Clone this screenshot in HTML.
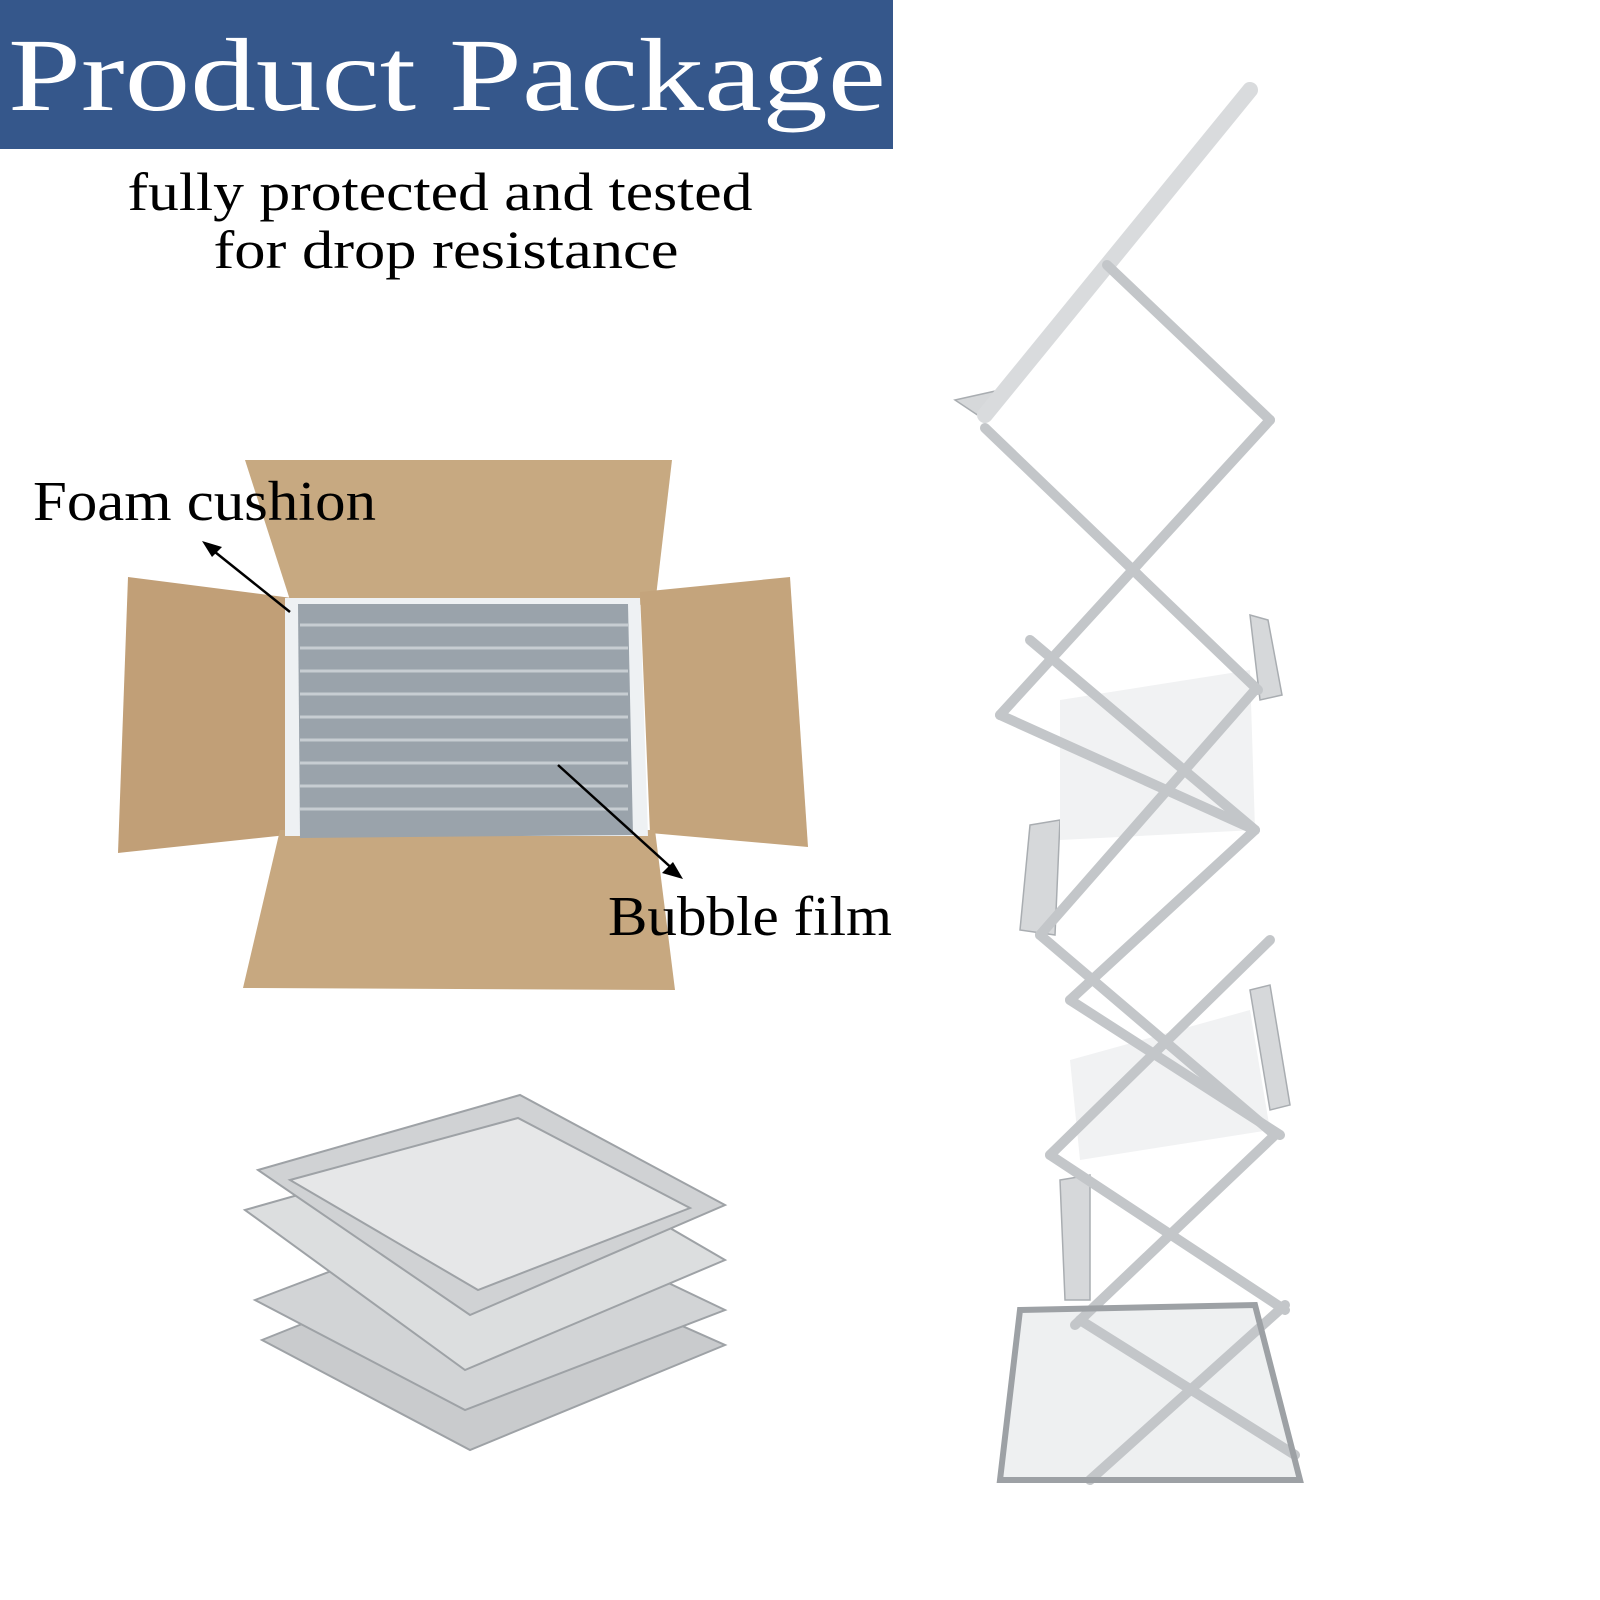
<!DOCTYPE html>
<html><head><meta charset="utf-8"><style>html,body{margin:0;padding:0;background:#fff}svg{display:block}</style></head>
<body>
<svg width="1600" height="1600" viewBox="0 0 1600 1600" xmlns="http://www.w3.org/2000/svg">
<rect x="0" y="0" width="893" height="149" fill="#35578b"/>
<text x="8" y="110" font-family="Liberation Serif, serif" font-size="104" fill="#fff" textLength="878" lengthAdjust="spacingAndGlyphs">Product Package</text>
<text x="440" y="210" text-anchor="middle" font-family="Liberation Serif, serif" font-size="54" fill="#000" textLength="625" lengthAdjust="spacingAndGlyphs">fully protected and tested</text>
<text x="446" y="268" text-anchor="middle" font-family="Liberation Serif, serif" font-size="54" fill="#000" textLength="465" lengthAdjust="spacingAndGlyphs">for drop resistance</text>

<polygon points="245,460 672,460 655,605 290,600" fill="#c7a981"/>
<polygon points="128,577 292,598 287,835 118,853" fill="#c19f77"/>
<polygon points="640,592 790,577 808,847 650,833" fill="#c4a47c"/>
<polygon points="280,830 655,830 675,990 243,988" fill="#c7a880"/>
<polygon points="285,598 640,598 648,836 285,836" fill="#eef1f3"/>
<polygon points="298,604 628,604 633,835 300,838" fill="#9aa3ab"/>
<g stroke="#c7cdd2" stroke-width="3">
<line x1="300" y1="625" x2="628" y2="625"/><line x1="300" y1="648" x2="628" y2="648"/><line x1="300" y1="671" x2="628" y2="671"/><line x1="300" y1="694" x2="628" y2="694"/><line x1="300" y1="717" x2="628" y2="717"/><line x1="300" y1="740" x2="628" y2="740"/><line x1="300" y1="763" x2="628" y2="763"/><line x1="300" y1="786" x2="628" y2="786"/><line x1="300" y1="809" x2="628" y2="809"/>
</g>
<text x="33" y="520" font-family="Liberation Serif, serif" font-size="56" fill="#000" textLength="343" lengthAdjust="spacingAndGlyphs">Foam cushion</text>
<text x="608" y="935" font-family="Liberation Serif, serif" font-size="56" fill="#000" textLength="284" lengthAdjust="spacingAndGlyphs">Bubble film</text>
<g stroke="#000" stroke-width="2.5">
<line x1="290" y1="612" x2="210" y2="548"/><line x1="558" y1="765" x2="676" y2="872"/>
</g>
<polygon points="202,541 222,547 212,557" fill="#000"/>
<polygon points="683,879 662,873 673,862" fill="#000"/>

<g stroke="#9ea2a6" stroke-width="2">
<polygon points="262,1340 500,1245 725,1345 470,1450" fill="#c9cbcd"/>
<polygon points="255,1300 505,1205 725,1310 465,1410" fill="#d2d4d6"/>
<polygon points="245,1210 510,1135 725,1260 465,1370" fill="#dcdedf"/>
<polygon points="258,1170 520,1095 725,1205 470,1315" fill="#d0d2d4"/>
<polygon points="290,1180 518,1118 690,1208 478,1290" fill="#e6e7e8"/>
</g>

<g fill="#d6d8da" stroke="#a9adb1" stroke-width="1.5">
<polygon points="955,400 1000,390 985,420"/>
<polygon points="1250,615 1268,620 1282,695 1260,700"/>
<polygon points="1030,825 1060,820 1055,935 1020,930"/>
<polygon points="1250,990 1270,985 1290,1105 1270,1110"/>
<polygon points="1060,1180 1090,1175 1090,1300 1065,1300"/>
<polygon points="1020,1310 1255,1305 1300,1480 1000,1480" fill="#eef0f1"/>
<polygon points="1060,700 1250,670 1255,830 1060,840" fill="#f1f2f3" stroke="none"/>
<polygon points="1070,1060 1250,1010 1270,1130 1080,1160" fill="#f1f2f3" stroke="none"/>
</g>
<g stroke="#c3c6c9" stroke-width="10" stroke-linecap="round">
<line x1="1250" y1="90" x2="985" y2="415" stroke-width="16" stroke="#d9dbdd"/>
<line x1="1107" y1="265" x2="1270" y2="420"/>
<line x1="985" y1="428" x2="1258" y2="690"/>
<line x1="1270" y1="420" x2="1000" y2="715"/>
<line x1="1030" y1="640" x2="1255" y2="830"/>
<line x1="1000" y1="715" x2="1255" y2="830"/>
<line x1="1255" y1="690" x2="1040" y2="935"/>
<line x1="1255" y1="830" x2="1070" y2="1000"/>
<line x1="1040" y1="935" x2="1275" y2="1135"/>
<line x1="1270" y1="940" x2="1050" y2="1155"/>
<line x1="1070" y1="1000" x2="1280" y2="1135"/>
<line x1="1050" y1="1155" x2="1285" y2="1310"/>
<line x1="1275" y1="1135" x2="1075" y2="1325"/>
<line x1="1080" y1="1320" x2="1295" y2="1455"/>
<line x1="1285" y1="1305" x2="1090" y2="1480"/>
</g>
<g stroke="#9da1a5" stroke-width="6" fill="none">
<polygon points="1020,1310 1255,1305 1300,1480 1000,1480"/>
</g>
</svg>
</body></html>
